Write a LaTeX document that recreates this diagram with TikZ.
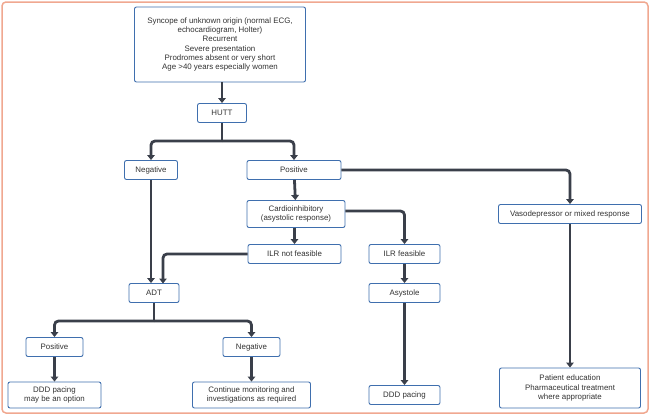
\documentclass[tikz,border=0pt]{standalone}
\usepackage{fontspec}
\setmainfont{Liberation Sans}
\usetikzlibrary{arrows.meta}
\definecolor{bx}{HTML}{3F6FAE}
\definecolor{ln}{HTML}{3A3F4A}
\definecolor{fr}{HTML}{F0A890}
\definecolor{tx}{HTML}{333333}
\begin{document}
\begin{tikzpicture}[x=1pt,y=-1pt,
 box/.style={draw=bx,line width=0.9pt,rounded corners=2pt,fill=white,align=center,inner sep=1.5pt,font=\fontsize{7.9}{9.2}\selectfont,text=tx,minimum height=19pt},
 ar/.style={draw=ln,line width=2.8pt,-{Triangle[length=5pt,width=7.5pt]}},
 ln/.style={draw=ln,line width=2.8pt}]
\useasboundingbox (0,0) rectangle (650,415);
\draw[fr,line width=1.5pt,rounded corners=4pt] (2,2) rectangle (648,413);
\node[box,minimum width=171pt,minimum height=75pt] (top) at (220,44.5) {Syncope of unknown origin (normal ECG,\\echocardiogram, Holter)\\Recurrent\\Severe presentation\\Prodromes absent or very short\\Age >40 years especially women};
\node[box,minimum width=49pt] (hutt) at (222,113) {HUTT};
\node[box,minimum width=53pt] (neg) at (151,170) {Negative};
\node[box,minimum width=94pt] (pos) at (294,170) {Positive};
\node[box,minimum width=98pt,minimum height=27pt] (card) at (296,214) {Cardioinhibitory\\(asystolic response)};
\node[box,minimum width=143pt] (vaso) at (570,214) {Vasodepressor or mixed response};
\node[box,minimum width=93pt] (ilrn) at (294.5,254) {ILR not feasible};
\node[box,minimum width=71pt] (ilrf) at (404.5,254) {ILR feasible};
\node[box,minimum width=50pt] (adt) at (154,293) {ADT};
\node[box,minimum width=71pt] (asy) at (404.5,293) {Asystole};
\node[box,minimum width=57pt] (pos2) at (54.5,347) {Positive};
\node[box,minimum width=57pt] (neg2) at (251.5,347) {Negative};
\node[box,minimum width=93pt,minimum height=26pt] (ddo) at (54.5,395) {DDD pacing\\may be an option};
\node[box,minimum width=118pt,minimum height=26pt] (cont) at (251.5,395) {Continue monitoring and\\investigations as required};
\node[box,minimum width=71pt] (ddd) at (404.5,395) {DDD pacing};
\node[box,minimum width=141pt,minimum height=40pt] (pat) at (570,388) {Patient education\\Pharmaceutical treatment\\where appropriate};
\coordinate (h1) at (222,141);
\coordinate (a1) at (154,321);
\draw[ar] (top.south -| hutt) -- (hutt);
\draw[ln] (hutt) -- (h1);
\draw[ar,rounded corners=4pt] (h1) -| (neg);
\draw[ar,rounded corners=4pt] (h1) -| (pos);
\draw[ar,rounded corners=4pt] (pos.east) -| (vaso);
\draw[ar] (pos) -- (card);
\draw[ar,rounded corners=4pt] (card.east |- 0,211) -| (ilrf);
\draw[ar] (card.south -| ilrn) -- (ilrn);
\draw[ar] (neg) -- (neg.south |- adt.north);
\draw[ar,rounded corners=4pt] (ilrn.west) -| (163,283.5);
\draw[ln] (adt) -- (a1);
\draw[ar,rounded corners=4pt] (a1) -| (pos2);
\draw[ar,rounded corners=4pt] (a1) -| (neg2);
\draw[ar] (pos2) -- (ddo);
\draw[ar] (neg2) -- (cont);
\draw[ar] (ilrf) -- (asy);
\draw[ar] (asy) -- (ddd);
\draw[ar] (vaso) -- (pat);
\end{tikzpicture}
\end{document}
